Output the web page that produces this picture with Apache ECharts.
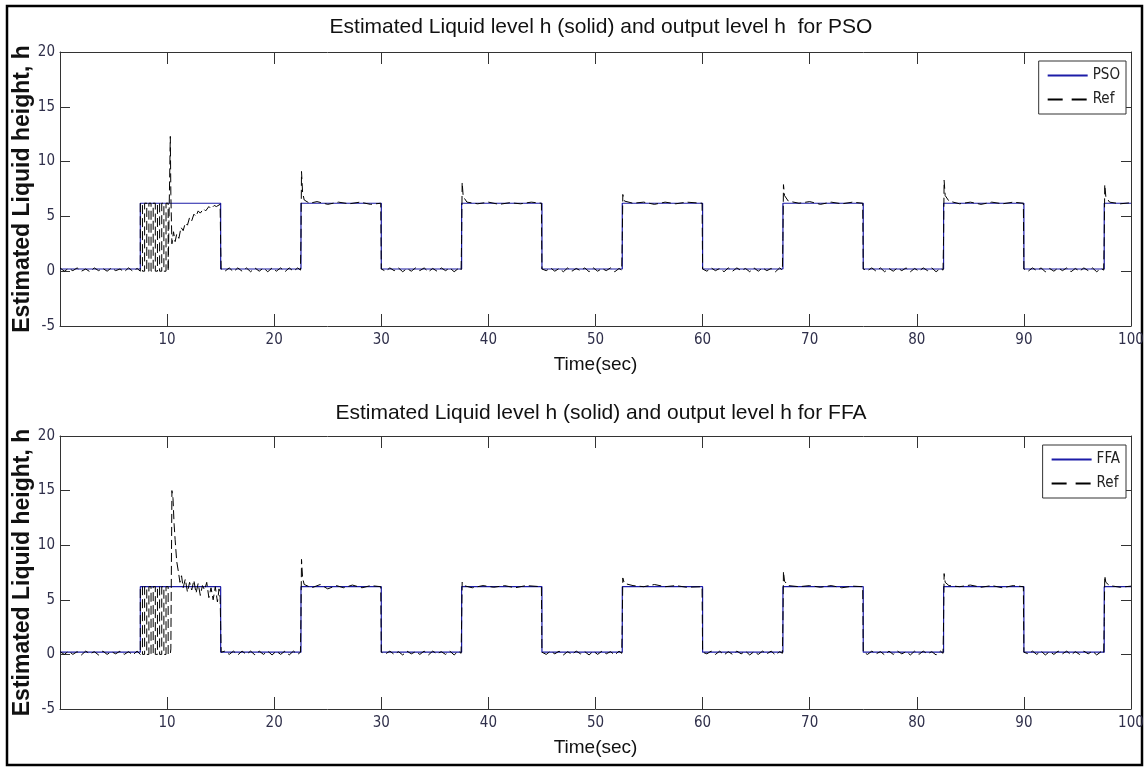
<!DOCTYPE html>
<html>
<head>
<meta charset="utf-8">
<script src="https://cdn.jsdelivr.net/npm/echarts@6/dist/echarts.min.js"></script>
<style>
html,body{margin:0;padding:0;background:#fff;}
#chart{width:1148px;height:767px;}
</style>
</head>
<body>
<div id="chart"></div>
<script>
// ---- Data ----
var titlePSO = 'Estimated Liquid level h (solid) and output level h  for PSO';
var titleFFA = 'Estimated Liquid level h (solid) and output level h for FFA';
var xTicks = [0, 10, 20, 30, 40, 50, 60, 70, 80, 90, 100];
var yTicks = [-5, 0, 5, 10, 15, 20];

// Blue estimated level, PSO (time, h)
var psoH = [
  [0,0.2],[7.5,0.2],[7.5,6.2],[15,6.2],[15,0.2],[22.5,0.2],[22.5,6.2],[30,6.2],[30,0.2],
  [37.5,0.2],[37.5,6.2],[45,6.2],[45,0.2],[52.5,0.2],[52.5,6.2],[60,6.2],[60,0.2],
  [67.5,0.2],[67.5,6.2],[75,6.2],[75,0.2],[82.5,0.2],[82.5,6.2],[90,6.2],[90,0.2],
  [97.5,0.2],[97.5,6.2],[100,6.2]
];

// Black dashed output level, PSO plot (time, h)
var refPSO = [
  [0,0.3],[0.4,0.0],[0.8,0.25],[1.2,0.05],[1.6,0.3],[2.0,0.0],[2.4,0.2],[2.8,-0.05],[3.2,0.3],[3.6,0.05],
  [4.0,0.25],[4.4,0.0],[4.8,0.3],[5.2,0.05],[5.6,0.2],[6.0,-0.05],[6.4,0.3],[6.8,0.0],[7.2,0.25],[7.5,0.0],
  [7.5,6.2],[7.7,6.2],[7.7,0.0],[7.9,0.0],[7.9,6.2],[8.1,6.2],[8.1,0.0],[8.3,0.0],[8.3,6.2],[8.5,6.2],
  [8.5,0.0],[8.7,0.0],[8.7,6.2],[8.9,6.2],[8.9,0.0],[9.1,0.0],[9.1,6.2],[9.3,6.2],[9.3,0.0],[9.5,0.0],
  [9.5,6.2],[9.7,6.2],[9.7,0.0],[9.9,0.0],[9.9,6.2],[10.1,6.2],[10.1,0.0],[10.25,0.0],
  [10.3,12.3],[10.35,7.0],[10.45,2.5],[10.6,3.6],[10.75,2.7],[10.9,3.4],[11.1,3.0],[11.3,4.0],[11.5,3.7],
  [11.7,4.4],[11.9,4.2],[12.1,4.9],[12.3,4.6],[12.5,5.2],[12.7,5.0],[12.9,5.5],[13.1,5.3],[13.4,5.7],[13.6,5.5],
  [13.9,5.9],[14.1,5.7],[14.4,6.0],[14.6,5.9],[14.95,6.1],
  [15.0,2.5],[15.05,0.2],
  [15.4,0.0],[15.8,0.3],[16.2,-0.05],[16.6,0.3],[17.0,0.0],[17.4,0.3],[17.8,-0.05],[18.2,0.3],[18.6,0.0],[19.0,0.3],
  [19.4,-0.05],[19.8,0.3],[20.2,0.0],[20.6,0.3],[21.0,-0.05],[21.4,0.3],[21.8,0.0],[22.2,0.3],[22.45,0.1],
  [22.5,3.0],[22.55,9.1],[22.65,7.2],[22.8,6.5],[23.3,6.2],[24,6.35],[25,6.1],[26,6.3],[27,6.15],[28,6.3],[29,6.1],[29.95,6.2],
  [30.0,0.2],
  [30.4,0.0],[30.8,0.3],[31.2,0.05],[31.6,0.3],[32.0,-0.05],[32.4,0.25],[32.8,0.0],[33.2,0.3],[33.6,0.05],[34.0,0.3],
  [34.4,-0.05],[34.8,0.25],[35.2,0.0],[35.6,0.3],[36.0,0.05],[36.4,0.3],[36.8,-0.05],[37.2,0.25],[37.45,0.1],
  [37.5,3.0],[37.55,8.1],[37.65,6.8],[38.0,6.3],[39,6.15],[40,6.3],[41,6.1],[42,6.25],[43,6.15],[44,6.3],[44.95,6.2],
  [45.0,0.2],
  [45.4,0.05],[45.8,0.3],[46.2,0.0],[46.6,0.25],[47.0,-0.05],[47.4,0.3],[47.8,0.0],[48.2,0.25],[48.6,0.05],[49.0,0.3],
  [49.4,-0.05],[49.8,0.3],[50.2,0.0],[50.6,0.25],[51.0,0.05],[51.4,0.3],[51.8,-0.05],[52.2,0.25],[52.45,0.1],
  [52.5,3.0],[52.55,7.0],[52.7,6.4],[53.5,6.2],[54.5,6.3],[55.5,6.1],[56.5,6.3],[57.5,6.15],[58.5,6.3],[59.95,6.2],
  [60.0,0.2],
  [60.4,0.0],[60.8,0.3],[61.2,0.05],[61.6,0.25],[62.0,-0.05],[62.4,0.3],[62.8,0.0],[63.2,0.3],[63.6,0.05],[64.0,0.25],
  [64.4,-0.05],[64.8,0.3],[65.2,0.0],[65.6,0.3],[66.0,0.05],[66.4,0.25],[66.8,-0.05],[67.2,0.3],[67.45,0.1],
  [67.5,3.0],[67.55,7.9],[67.65,6.9],[68,6.4],[69,6.2],[70,6.35],[71,6.1],[72,6.3],[73,6.15],[74,6.3],[74.95,6.2],
  [75.0,0.2],
  [75.4,0.05],[75.8,0.3],[76.2,0.0],[76.6,0.3],[77.0,-0.05],[77.4,0.25],[77.8,0.0],[78.2,0.3],[78.6,0.05],[79.0,0.3],
  [79.4,-0.05],[79.8,0.25],[80.2,0.0],[80.6,0.3],[81.0,0.05],[81.4,0.3],[81.8,-0.05],[82.2,0.25],[82.45,0.1],
  [82.5,3.0],[82.55,8.3],[82.65,6.9],[83,6.4],[84,6.15],[85,6.3],[86,6.1],[87,6.3],[88,6.15],[89,6.3],[89.95,6.2],
  [90.0,0.2],
  [90.4,0.0],[90.8,0.3],[91.2,0.05],[91.6,0.3],[92.0,-0.05],[92.4,0.25],[92.8,0.0],[93.2,0.3],[93.6,0.05],[94.0,0.3],
  [94.4,-0.05],[94.8,0.25],[95.2,0.0],[95.6,0.3],[96.0,0.05],[96.4,0.3],[96.8,-0.05],[97.2,0.25],[97.45,0.1],
  [97.5,3.0],[97.55,7.9],[97.65,6.8],[98,6.3],[99,6.15],[100,6.25]
];

// Blue estimated level, FFA (time, h)
var ffaH = [
  [0,0.2],[7.5,0.2],[7.5,6.2],[15,6.2],[15,0.2],[22.5,0.2],[22.5,6.2],[30,6.2],[30,0.2],
  [37.5,0.2],[37.5,6.2],[45,6.2],[45,0.2],[52.5,0.2],[52.5,6.2],[60,6.2],[60,0.2],
  [67.5,0.2],[67.5,6.2],[75,6.2],[75,0.2],[82.5,0.2],[82.5,6.2],[90,6.2],[90,0.2],
  [97.5,0.2],[97.5,6.2],[100,6.2]
];

// Black dashed output level, FFA plot (time, h)
var refFFA = [
  [0,0.25],[0.4,0.0],[0.8,0.3],[1.2,0.0],[1.6,0.25],[2.0,-0.05],[2.4,0.3],[2.8,0.05],[3.2,0.25],[3.6,-0.05],
  [4.0,0.3],[4.4,0.0],[4.8,0.25],[5.2,0.05],[5.6,0.3],[6.0,0.0],[6.4,0.25],[6.8,-0.05],[7.2,0.3],[7.5,0.0],
  [7.5,6.2],[7.7,6.2],[7.7,0.0],[7.9,0.0],[7.9,6.2],[8.1,6.2],[8.1,0.0],[8.3,0.0],[8.3,6.2],[8.5,6.2],
  [8.5,0.0],[8.7,0.0],[8.7,6.2],[8.9,6.2],[8.9,0.0],[9.1,0.0],[9.1,6.2],[9.3,6.2],[9.3,0.0],[9.5,0.0],
  [9.5,6.2],[9.7,6.2],[9.7,0.0],[9.9,0.0],[9.9,6.2],[10.1,6.2],[10.1,0.0],[10.3,0.0],
  [10.35,0.5],[10.45,15.0],[10.55,14.3],[10.65,12.0],[10.75,10.5],[10.9,8.5],[11.05,7.6],[11.2,6.6],[11.35,7.2],
  [11.5,6.1],[11.7,6.9],[11.9,5.7],[12.1,6.6],[12.3,5.9],[12.5,6.8],[12.7,5.6],[12.9,6.5],[13.1,5.4],[13.3,6.3],
  [13.5,5.9],[13.7,6.6],[13.9,5.2],[14.1,6.1],[14.3,5.0],[14.5,6.2],[14.7,4.8],[14.85,6.0],[14.95,5.2],
  [15.0,2.8],[15.05,0.2],
  [15.4,0.3],[15.8,0.0],[16.2,0.3],[16.6,-0.05],[17.0,0.3],[17.4,0.0],[17.8,0.3],[18.2,-0.05],[18.6,0.3],[19.0,0.0],
  [19.4,0.3],[19.8,-0.05],[20.2,0.3],[20.6,0.0],[21.0,0.3],[21.4,-0.05],[21.8,0.3],[22.2,0.0],[22.45,0.2],
  [22.5,3.5],[22.55,8.7],[22.65,7.0],[22.8,6.4],[23.5,6.1],[24.3,6.4],[25,6.0],[25.8,6.3],[26.5,6.1],[27.3,6.35],[28.2,6.1],[29,6.3],[29.95,6.2],
  [30.0,0.2],
  [30.4,0.05],[30.8,0.3],[31.2,0.0],[31.6,0.25],[32.0,-0.05],[32.4,0.3],[32.8,0.05],[33.2,0.25],[33.6,0.0],[34.0,0.3],
  [34.4,-0.05],[34.8,0.3],[35.2,0.05],[35.6,0.25],[36.0,0.0],[36.4,0.3],[36.8,-0.05],[37.2,0.3],[37.45,0.1],
  [37.5,3.0],[37.55,6.6],[37.7,6.3],[38.5,6.1],[39.5,6.3],[40.5,6.15],[41.5,6.3],[42.5,6.1],[43.5,6.3],[44.95,6.2],
  [45.0,0.2],
  [45.4,0.0],[45.8,0.3],[46.2,0.05],[46.6,0.3],[47.0,-0.05],[47.4,0.25],[47.8,0.0],[48.2,0.3],[48.6,0.05],[49.0,0.25],
  [49.4,-0.05],[49.8,0.3],[50.2,0.0],[50.6,0.3],[51.0,0.05],[51.4,0.25],[51.8,-0.05],[52.2,0.3],[52.45,0.1],
  [52.5,3.0],[52.55,7.0],[52.7,6.5],[53.5,6.3],[54.5,6.2],[55.5,6.4],[56.5,6.2],[57.5,6.3],[58.5,6.15],[59.95,6.2],
  [60.0,0.2],
  [60.4,0.05],[60.8,0.3],[61.2,0.0],[61.6,0.3],[62.0,-0.05],[62.4,0.25],[62.8,0.0],[63.2,0.3],[63.6,0.05],[64.0,0.3],
  [64.4,-0.05],[64.8,0.25],[65.2,0.0],[65.6,0.3],[66.0,0.05],[66.4,0.3],[66.8,-0.05],[67.2,0.25],[67.45,0.1],
  [67.5,3.0],[67.55,7.6],[67.65,6.7],[68,6.3],[69,6.2],[70,6.3],[71,6.15],[72,6.3],[73,6.1],[74,6.25],[74.95,6.2],
  [75.0,0.2],
  [75.4,0.0],[75.8,0.3],[76.2,0.05],[76.6,0.25],[77.0,-0.05],[77.4,0.3],[77.8,0.0],[78.2,0.3],[78.6,0.05],[79.0,0.25],
  [79.4,-0.05],[79.8,0.3],[80.2,0.0],[80.6,0.3],[81.0,0.05],[81.4,0.25],[81.8,-0.05],[82.2,0.3],[82.45,0.1],
  [82.5,3.0],[82.55,7.4],[82.65,6.6],[83,6.3],[84,6.2],[85,6.35],[86,6.15],[87,6.3],[88,6.1],[89,6.3],[89.95,6.2],
  [90.0,0.2],
  [90.4,0.05],[90.8,0.3],[91.2,0.0],[91.6,0.3],[92.0,-0.05],[92.4,0.25],[92.8,0.0],[93.2,0.3],[93.6,0.05],[94.0,0.3],
  [94.4,-0.05],[94.8,0.25],[95.2,0.0],[95.6,0.3],[96.0,0.05],[96.4,0.3],[96.8,-0.05],[97.2,0.25],[97.45,0.1],
  [97.5,3.0],[97.55,7.2],[97.65,6.6],[98,6.3],[99,6.15],[100,6.25]
];

// ---- Chart ----
var chart = echarts.init(document.getElementById('chart'), null, {renderer: 'canvas'});
var tickFont = "'Liberation Sans Narrow','DejaVu Sans Condensed','Liberation Sans',sans-serif";
var mainFont = "'Liberation Sans',Arial,sans-serif";
var axisCol = '#333';
var labCol = '#2f2f4a';
var blue = '#1c1ca8';

function xAx(gi, pos, showLabels, withName) {
  return {
    type: 'value', gridIndex: gi, position: pos,
    min: xTicks[0], max: xTicks[xTicks.length - 1], interval: xTicks[1] - xTicks[0],
    splitLine: {show: false},
    axisLine: {show: true, onZero: false, lineStyle: {color: axisCol, width: 1}},
    axisTick: {show: true, inside: true, length: 12, lineStyle: {color: axisCol}},
    axisLabel: {show: showLabels, showMinLabel: false, margin: 7, color: labCol, fontSize: 15, fontFamily: tickFont},
    name: withName ? 'Time(sec)' : '', nameLocation: 'middle', nameGap: 29, nameMoveOverlap: false,
    nameTextStyle: {color: '#111', fontSize: 19, fontFamily: mainFont}
  };
}
function yAx(gi, pos, showLabels, withName) {
  return {
    type: 'value', gridIndex: gi, position: pos,
    min: yTicks[0], max: yTicks[yTicks.length - 1], interval: yTicks[1] - yTicks[0],
    splitLine: {show: false},
    axisLine: {show: true, onZero: false, lineStyle: {color: axisCol, width: 1}},
    axisTick: {show: true, inside: true, length: 10, lineStyle: {color: axisCol}},
    axisLabel: {show: showLabels, margin: 5, color: labCol, fontSize: 15, fontFamily: tickFont},
    name: withName ? 'Estimated Liquid height, h' : '', nameLocation: 'middle', nameGap: 26, nameRotate: 90,
    nameMoveOverlap: false,
    nameTextStyle: {color: '#111', fontSize: 23, fontWeight: 'bold', fontFamily: mainFont}
  };
}

function legendCfg(first, top) {
  return {
    data: [first, {name: 'Ref', lineStyle: {type: [15, 9]}}],
    orient: 'vertical', right: 22, top: top, itemWidth: 40, itemHeight: 10, itemGap: 9,
    padding: [7, 6, 7, 8], borderColor: '#333', borderWidth: 1, backgroundColor: '#fff',
    itemStyle: {opacity: 0},
    textStyle: {fontSize: 15, color: '#222', fontFamily: tickFont}, selectedMode: false
  };
}

var option = {
  animation: false,
  backgroundColor: '#fff',
  title: [
    {text: titlePSO, left: 596, top: 12, textAlign: 'center',
     textStyle: {fontSize: 21, fontWeight: 'normal', color: '#111', fontFamily: mainFont}},
    {text: titleFFA, left: 596, top: 398, textAlign: 'center',
     textStyle: {fontSize: 21, fontWeight: 'normal', color: '#111', fontFamily: mainFont}}
  ],
  grid: [
    {left: 60, right: 17, top: 52, height: 274, containLabel: false, outerBoundsMode: 'none'},
    {left: 60, right: 17, top: 436, height: 273, containLabel: false, outerBoundsMode: 'none'}
  ],
  xAxis: [xAx(0, 'bottom', true, true), xAx(0, 'top', false, false), xAx(1, 'bottom', true, true), xAx(1, 'top', false, false)],
  yAxis: [yAx(0, 'left', true, true), yAx(0, 'right', false, false), yAx(1, 'left', true, true), yAx(1, 'right', false, false)],
  legend: [legendCfg('PSO', 61), legendCfg('FFA', 445)],
  series: [
    {name: 'PSO', type: 'line', xAxisIndex: 0, yAxisIndex: 0, data: psoH, showSymbol: false, symbol: 'none',
     lineStyle: {color: blue, width: 1.2}, itemStyle: {color: blue}},
    {name: 'Ref', type: 'line', xAxisIndex: 0, yAxisIndex: 0, data: refPSO, showSymbol: false, symbol: 'none',
     lineStyle: {color: '#000', width: 1, type: [9, 4]}, itemStyle: {color: '#000'}},
    {name: 'FFA', type: 'line', xAxisIndex: 2, yAxisIndex: 2, data: ffaH, showSymbol: false, symbol: 'none',
     lineStyle: {color: blue, width: 1.2}, itemStyle: {color: blue}},
    {name: 'Ref', type: 'line', xAxisIndex: 2, yAxisIndex: 2, data: refFFA, showSymbol: false, symbol: 'none',
     lineStyle: {color: '#000', width: 1, type: [9, 4]}, itemStyle: {color: '#000'}}
  ],
  graphic: [
    {type: 'rect', silent: true, shape: {x: 7, y: 6, width: 1135, height: 759},
     style: {fill: 'none', stroke: '#000', lineWidth: 2.5}}
  ]
};
chart.setOption(option);
</script>
</body>
</html>
